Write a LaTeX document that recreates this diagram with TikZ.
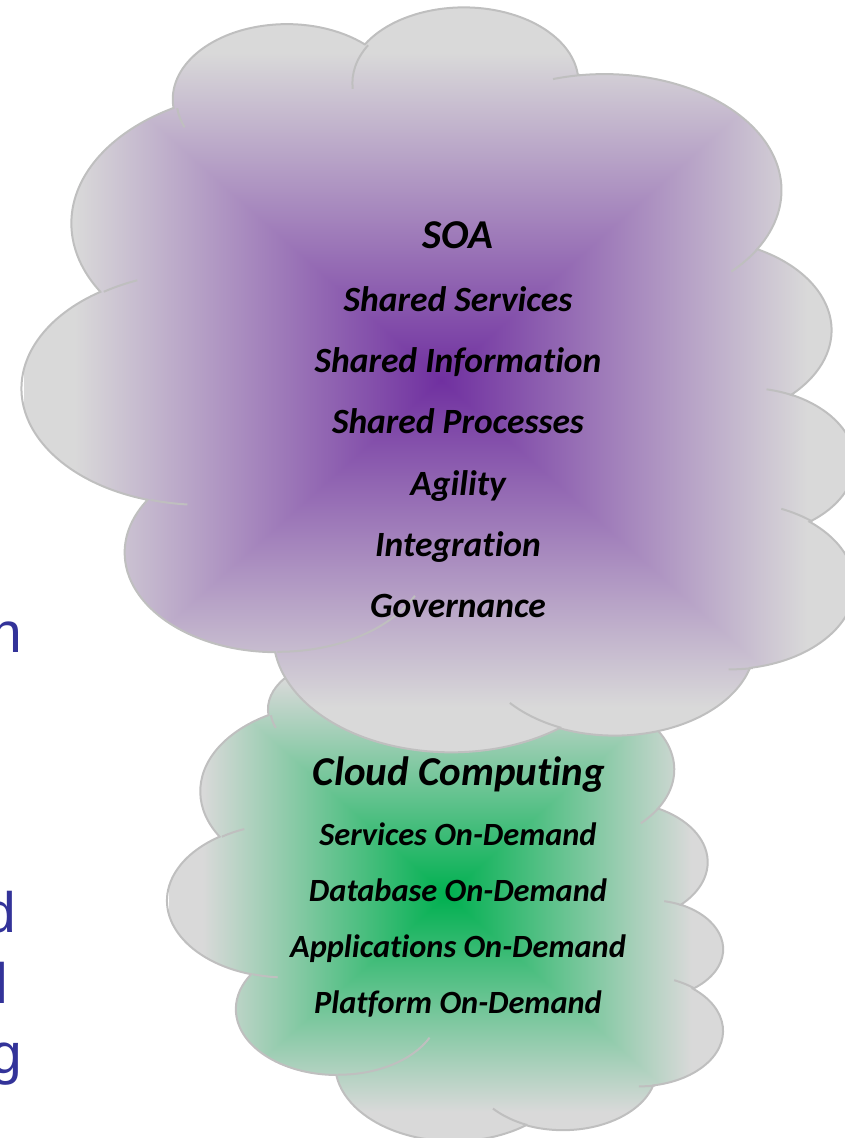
\documentclass[tikz,border=0pt]{standalone}
\usepackage{fontspec}
\newfontfamily\carlito[Ligatures=NoCommon]{Carlito}
\newfontfamily\slidefont{Liberation Sans}

\definecolor{cloudgrey}{RGB}{191,191,191}
\definecolor{slideblue}{RGB}{51,51,153}

% rectangle fills: colour goes with max(|x|,|y|) from the middle out to grey
\pgfdeclarefunctionalshading{soafill}{\pgfpoint{-50bp}{-50bp}}{\pgfpoint{50bp}{50bp}}{}{%
  abs exch abs 2 copy lt {exch} if pop 22 div dup 1 gt {pop 1} if
  dup 0.412 mul 0.439 add exch dup 0.663 mul 0.188 add exch 0.224 mul 0.627 add}
\pgfdeclarefunctionalshading{ccfill}{\pgfpoint{-50bp}{-50bp}}{\pgfpoint{50bp}{50bp}}{}{%
  abs exch abs 2 copy lt {exch} if pop 22 div dup 1 gt {pop 1} if
  dup 0.851 mul exch dup 0.161 mul 0.690 add exch 0.537 mul 0.314 add}

\tikzset{
  % one bulge of the cloud, angles as seen from the centre of its ellipse
  puff/.style n args={4}{x radius=#1, y radius=#2,
    start angle={atan2(#1*sin(#3),#2*cos(#3))},
    delta angle={mod(atan2(#1*sin(#3+#4),#2*cos(#3+#4))-atan2(#1*sin(#3),#2*cos(#3))+720,360)}},
  cloud path/.style={insert path={(3.9,14.37)
    \foreach \rw/\rh/\ang/\swp in {6.753/9.19/-190.4875/123.7805, 5.333/7.267/-144.1024/89.9452,
      4.365/5.945/-145.8079/99.723, 4.857/6.595/-130.9861/117.2417, 5.333/7.273/-78.7089/109.0269,
      6.775/9.22/-46.2673/130.269, 5.785/7.867/0.625/114.0333, 6.752/9.215/22.4516/115.1726,
      7.72/10.543/66.2426/75.711, 4.36/5.918/-274.9421/146.7356, 4.345/5.945/-246.8285/152.5189}
      { arc[puff={\rw}{\rh}{\ang}{\swp}] } -- cycle}},
  cloud seams/.style={insert path={
    \foreach \px/\py/\rw/\rh/\ang/\swp in {4.693/26.177/4.345/5.945/86.742/26.4295,
      6.928/34.899/4.36/5.918/73.6105/11.4475, 16.478/39.09/6.752/9.215/137.6242/14.0811,
      28.827/34.751/6.752/9.215/6.4533/15.9984, 34.129/22.954/5.785/7.867/-70.2924/70.9174,
      41.798/15.354/5.333/7.273/30.318/27.7515, 38.324/5.426/4.857/6.595/-13.7443/14.8589,
      29.078/3.952/4.857/6.595/-149.1815/18.1954, 22.141/4.72/4.365/5.945/-163.4943/17.6864,
      14/5.192/6.753/9.19/-66.707/12.3194, 4.127/15.789/6.753/9.19/157.6544/11.8582}
      { (\px,\py) arc[puff={\rw}{\rh}{\ang}{\swp}] }}},
  cloudline/.style={draw=cloudgrey, line width=2pt},
  cloudtext/.style={font=\carlito\bfseries\itshape\fontsize{35.5}{42}\selectfont, anchor=base, inner sep=0pt},
  ondemand/.style={cloudtext, font=\carlito\bfseries\itshape\fontsize{32.4}{38}\selectfont},
  sidetext/.style={font=\slidefont\fontsize{57}{60}\selectfont, text=slideblue, anchor=base east, inner sep=0pt}
}

\begin{document}
\begin{tikzpicture}[x=1pt, y=1pt]
  \useasboundingbox (0,0) rectangle (844,-1138);

  % lower cloud, under the other one
  \begin{scope}[shift={(447,-895)}, rotate=-90, xscale=492/43.2, yscale=-556/43.2, shift={(-21.6,-21.6)}]
    \begin{scope}
      \clip[cloud path];
      \shade[shading=ccfill] (0,0) rectangle (43.2,43.2);
    \end{scope}
    \path[cloudline, cloud path];
    \path[cloudline, cloud seams];
  \end{scope}

  % upper cloud
  \begin{scope}[shift={(441,-380)}, rotate=-90, xscale=744/43.2, yscale=-833/43.2, shift={(-21.6,-21.6)}]
    \begin{scope}
      \clip[cloud path];
      \shade[shading=soafill] (0,0) rectangle (43.2,43.2);
    \end{scope}
    \path[cloudline, cloud path];
    \path[cloudline, cloud seams];
  \end{scope}

  \node[cloudtext, font=\carlito\bfseries\itshape\fontsize{41}{48}\selectfont] (soa) at (458,-248) {SOA};
  \node[cloudtext] (shsrv) at (458,-311) {Shared Services};
  \node[cloudtext] (shinf) at (458,-372) {Shared Information};
  \node[cloudtext] (shproc) at (458,-433) {Shared Processes};
  \node[cloudtext] (agil) at (458,-495) {Agility};
  \node[cloudtext] (integ) at (458,-556) {Integration};
  \node[cloudtext] (gov) at (458,-617) {Governance};

  \node[cloudtext, font=\carlito\bfseries\itshape\fontsize{41}{48}\selectfont] (cc) at (459,-785) {Cloud Computing};
  \node[ondemand] (srvod) at (458,-845) {Services On-Demand};
  \node[ondemand] (dbod) at (458,-901) {Database On-Demand};
  \node[ondemand] (appod) at (458,-957) {Applications On-Demand};
  \node[ondemand] (platod) at (458,-1013) {Platform On-Demand};

  % word ends of the slide text at the left edge
  \node[sidetext] (endn) at (22,-652) {n};
  \node[sidetext] (endd) at (16,-932) {d};
  \node[sidetext] (endl) at (8.7,-1003) {l};
  \node[sidetext] (endg) at (22,-1073) {g};
\end{tikzpicture}
\end{document}
